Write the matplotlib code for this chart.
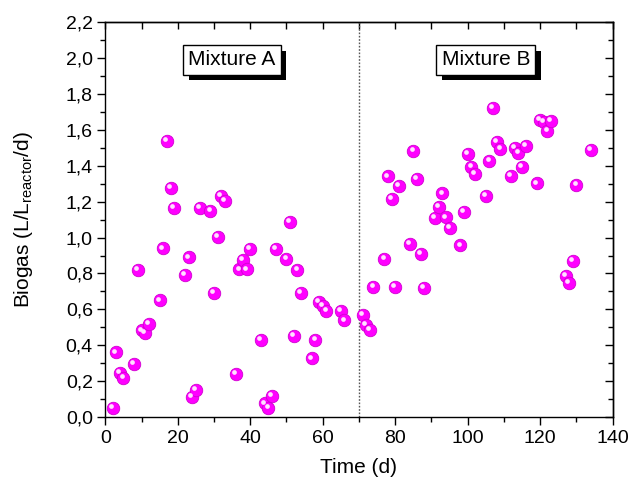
import matplotlib
matplotlib.use("Agg")
import matplotlib.pyplot as plt
from matplotlib.ticker import MultipleLocator, FuncFormatter
import matplotlib.transforms as mtransforms
import matplotlib.patheffects as pe

plt.rcParams['font.family'] = ['Liberation Sans', 'DejaVu Sans']

# Mixture A (days 0-70)
day_a = [2, 3, 4, 5, 8, 9, 10, 11, 12, 15, 16, 17, 18, 19, 22, 23, 24, 25, 26,
         29, 30, 31, 32, 33, 36, 37, 38, 39, 40, 43, 44, 45, 46, 47, 50, 51, 52,
         53, 54, 57, 58, 59, 60, 61, 65, 66]
biogas_a = [0.05, 0.36, 0.245, 0.22, 0.295, 0.82, 0.483, 0.468, 0.517, 0.65,
            0.94, 1.54, 1.277, 1.164, 0.794, 0.89, 0.113, 0.152, 1.165,
            1.15, 0.69, 1.006, 1.232, 1.204, 0.24, 0.823, 0.877, 0.823, 0.939,
            0.431, 0.076, 0.05, 0.119, 0.937, 0.881, 1.089, 0.452,
            0.82, 0.69, 0.327, 0.43, 0.643, 0.62, 0.59, 0.593, 0.539]

# Mixture B (days 70-140)
day_b = [71, 72, 73, 74, 77, 78, 79, 80, 81, 84, 85, 86, 87, 88, 91, 92, 93, 94,
         95, 98, 99, 100, 101, 102, 105, 106, 107, 108, 109, 112, 113, 114, 115,
         116, 119, 120, 121, 122, 123, 127, 128, 129, 130, 134]
biogas_b = [0.567, 0.515, 0.485, 0.726, 0.881, 1.341, 1.215, 0.726, 1.289,
            0.963, 1.485, 1.326, 0.907, 0.719, 1.111, 1.17, 1.246, 1.113,
            1.052, 0.956, 1.145, 1.467, 1.393, 1.356, 1.231, 1.426, 1.724,
            1.533, 1.496, 1.344, 1.498, 1.47, 1.393, 1.511, 1.302, 1.657,
            1.644, 1.596, 1.652, 0.787, 0.746, 0.872, 1.294, 1.491]

labels = ["Mixture A", "Mixture B"]
label_x = [35, 105]
label_y = [1.99, 1.99]
split_day = 70

fig = plt.figure(figsize=(6.3, 4.84), dpi=100)
ax = fig.add_axes([0.1671, 0.1384, 0.9725 - 0.1671, 0.9539 - 0.1384])

days = day_a + day_b
vals = biogas_a + biogas_b

ax.axvline(split_day, color='#555555', linestyle=(0, (1.2, 1.2)), linewidth=1.0, zorder=1)

ax.plot(days, vals, linestyle='none', marker='o', markersize=9,
        markerfacecolor='#FF00FF', markeredgecolor='#D000D0', markeredgewidth=0.6, zorder=3)
hl = mtransforms.offset_copy(ax.transData, fig=fig, x=-1.3, y=1.3, units='points')
ax.plot(days, vals, linestyle='none', marker='o', markersize=3.4,
        markerfacecolor='#FFE0FF', markeredgecolor='none', transform=hl, zorder=4)

ax.set_xlim(0, 140)
ax.set_ylim(0, 2.2)
ax.xaxis.set_major_locator(MultipleLocator(20))
ax.xaxis.set_minor_locator(MultipleLocator(10))
ax.yaxis.set_major_locator(MultipleLocator(0.2))
ax.yaxis.set_minor_locator(MultipleLocator(0.1))
ax.yaxis.set_major_formatter(FuncFormatter(lambda v, p: f"{v:.1f}".replace('.', ',')))

ax.tick_params(which='major', direction='out', length=6, width=1, labelsize=14,
               top=False, right=False, color='black', pad=3)
ax.tick_params(which='minor', direction='out', length=3.5, width=1,
               top=False, right=False)
for s in ax.spines.values():
    s.set_linewidth(1.0)

# top axis ticks (inward)
sec_x = ax.secondary_xaxis('top')
sec_x.xaxis.set_major_locator(MultipleLocator(10))
sec_x.tick_params(which='major', direction='in', length=5, width=1, labeltop=False)
sec_x.spines['top'].set_linewidth(1.0)
# right axis ticks (inward)
sec_y = ax.secondary_yaxis('right')
sec_y.yaxis.set_major_locator(MultipleLocator(0.2))
sec_y.yaxis.set_minor_locator(MultipleLocator(0.1))
sec_y.tick_params(which='major', direction='in', length=6, width=1, labelright=False)
sec_y.tick_params(which='minor', direction='in', length=3.5, width=1)
sec_y.spines['right'].set_linewidth(1.0)

ax.set_xlabel("Time (d)", fontsize=15, labelpad=8)
ax.set_ylabel("Biogas (L/L$_\\mathregular{reactor}$/d)", fontsize=15, labelpad=22)

for lab, lx, ly in zip(labels, label_x, label_y):
    t = ax.text(lx, ly, lab, fontsize=15, ha='center', va='center', zorder=6,
                bbox=dict(boxstyle='square,pad=0.25', facecolor='white',
                          edgecolor='black', linewidth=1.0))
    t.get_bbox_patch().set_path_effects([
        pe.SimplePatchShadow(offset=(3.8, -3.8), shadow_rgbFace='black', alpha=1.0),
        pe.Normal()])

fig.savefig("out.png", dpi=100)
